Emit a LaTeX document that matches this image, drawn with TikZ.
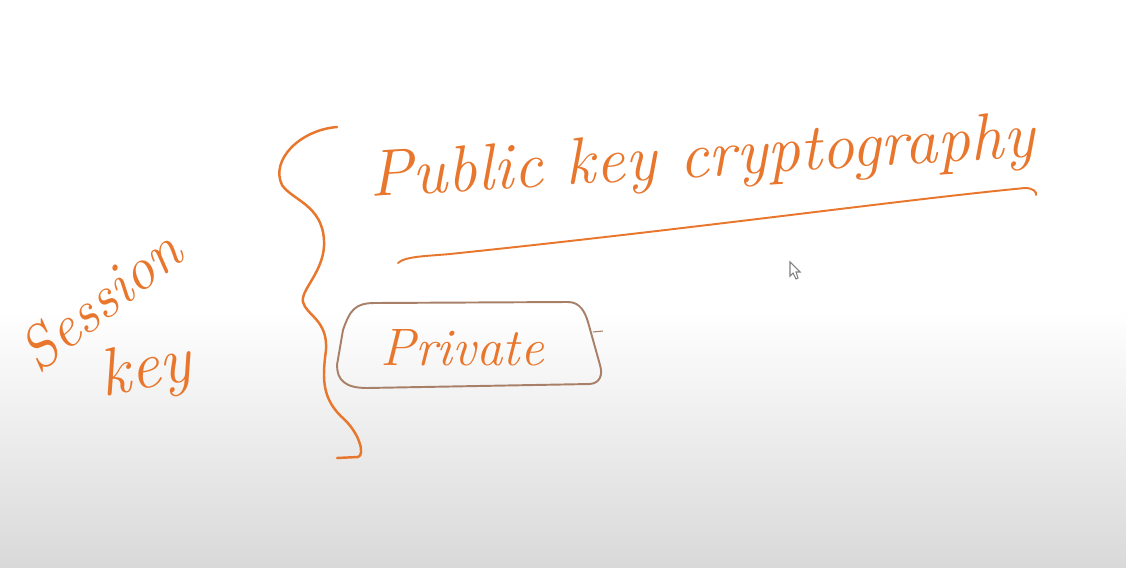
\documentclass[tikz,border=0pt]{standalone}
\usetikzlibrary{positioning}
\definecolor{ink}{RGB}{232,118,44}
\definecolor{rim}{RGB}{168,128,104}
\tikzset{
  pen/.style={draw=ink, line width=1.4pt, line cap=round, line join=round},
  hand/.style={text=ink, font=\fontsize{38}{44}\selectfont\itshape, inner sep=0pt}
}
\begin{document}
\begin{tikzpicture}[x=0.02cm, y=-0.02cm]
		\useasboundingbox (0,0) rectangle (1126,568);
		\fill[white] (0,0) rectangle (1126,568);
		\shade[top color=white, bottom color=black!15] (0,310) rectangle (1126,568);

		\node[hand, font=\fontsize{34}{40}\selectfont\itshape, rotate=38] (session) at (100,300) {Session};
		\node[hand, rotate=10] (key) at (146,372) {key};

		\draw[pen] (337,127) .. controls (300,130) and (270,160) .. (282,185) .. controls (292,200) and (322,205) .. (324,240) .. controls (326,270) and (300,290) .. (303,302) .. controls (306,315) and (328,320) .. (326,350) .. controls (322,380) and (322,400) .. (345,420) .. controls (360,435) and (365,455) .. (358,457) -- (337,458);

		\node[hand, font=\fontsize{37.5}{44}\selectfont\itshape, anchor=base west, rotate=3.5] (public) at (370,197) {Public key cryptography};
		\coordinate (lineL) at (398,263);
		\coordinate (lineR) at (1036,195);
		\draw[pen, line width=1.1pt] (lineL) .. controls (405,256) and (430,256) .. (450,254) .. controls (700,228) and (900,200) .. (1025,188) .. controls (1033,188) and (1037,192) .. (lineR);

		\node[hand, font=\fontsize{30}{36}\selectfont\itshape] (private) at (462,348) {Private};
		\draw[draw=rim, line width=1.1pt] (343,330) .. controls (350,310) and (355,303) .. (375,303) -- (568,302) .. controls (580,302) and (585,312) .. (588,322) -- (600,365) .. controls (603,375) and (600,383) .. (590,384) -- (367,388) .. controls (345,388) and (337,380) .. (337,365) -- cycle;
		\draw[rim, line width=0.6pt] (593,332) -- (603,331);

		\draw[gray, fill=white, line width=0.6pt] (790,262) -- (790,276) -- (793,273) -- (796,279) -- (798,278) -- (796,272) -- (800,272) -- cycle;
	\end{tikzpicture}
\end{document}
